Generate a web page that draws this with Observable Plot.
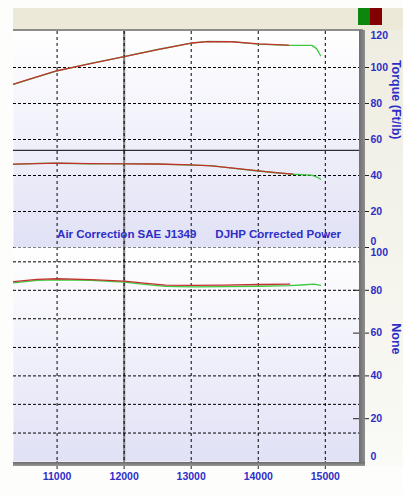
<!DOCTYPE html>
<html><head><meta charset="utf-8">
<script src="https://cdn.jsdelivr.net/npm/d3@7"></script>
<script src="https://cdn.jsdelivr.net/npm/@observablehq/plot@0.6"></script>
<style>
html,body{margin:0;padding:0;background:#fff}
#wrap{position:relative;width:403px;height:495px;overflow:hidden;font-family:"Liberation Sans",Arial,sans-serif;background:#fdfdfc}
#topbar{position:absolute;left:13px;top:8px;width:390px;height:22px;background:#ece9d8}
#rightstrip{position:absolute;left:365px;top:30px;width:38px;height:436px;background:linear-gradient(#efede1,#fafaf6)}
#legend{position:absolute;left:358px;top:8px;display:flex}
#legend span{display:block;width:12px;height:17px}
.chart{position:absolute;left:0}
.bar{position:absolute}
</style></head>
<body>
<div id="wrap">
  <div id="topbar"></div>
  <div id="rightstrip"></div>
  <div id="legend"></div>
</div>
<script>
// ---- data ----
const xDomain = [10350, 15510];
const rpmTicks = [11000, 12000, 13000, 14000, 15000];
const torqueTicks = [0, 20, 40, 60, 80, 100, 120];
const noneTicks = [0, 20, 40, 60, 80, 100];
const torqueGrid = [0, 20, 40, 60, 80, 100];
const noneGrid = [13.3, 26.7, 40, 53.3, 66.7, 80, 93.3];
const markerLevel = [54];
const cursorRpm = [12000];
const legendColors = ["#0c860c", "#820000"];
const lineColors = ["#3ec83e", "#c43030"];

// top panel, upper curve (torque)
const upperRpmRed   = [10350, 10600, 11000, 11500, 12000, 12500, 13000, 13250, 13600, 14000, 14450];
const upperRed      = [90.8, 93.7, 98.2, 102.2, 106.0, 109.9, 113.6, 114.4, 114.3, 113.1, 112.4];
const upperRpmGreen = [10350, 10600, 11000, 11500, 12000, 12500, 13000, 13250, 13600, 14000, 14450, 14800, 14870, 14930];
const upperGreen    = [90.6, 93.6, 98.1, 102.3, 106.1, 110.0, 113.5, 114.5, 114.4, 113.0, 112.3, 112.3, 110.5, 106.5];

// top panel, lower curve
const lowerRpmRed   = [10350, 10700, 11000, 11500, 12000, 12500, 13000, 13300, 13700, 14000, 14300, 14520];
const lowerRed      = [46.3, 46.6, 46.9, 46.6, 46.5, 46.4, 45.9, 45.4, 43.8, 42.6, 41.5, 40.8];
const lowerRpmGreen = [10350, 10700, 11000, 11500, 12000, 12500, 13000, 13300, 13700, 14000, 14300, 14520, 14800, 14880, 14930];
const lowerGreen    = [46.2, 46.7, 46.8, 46.5, 46.6, 46.3, 45.8, 45.5, 43.7, 42.5, 41.4, 40.7, 40.2, 39.0, 37.9];

// bottom panel curve (None)
const botRpmRed   = [10350, 10700, 11000, 11500, 12000, 12300, 12620, 13000, 13500, 14000, 14470];
const botRed      = [84.1, 85.1, 85.4, 85.0, 84.3, 83.4, 82.4, 82.3, 82.4, 82.7, 82.9];
const botRpmGreen = [10350, 10700, 11000, 11500, 12000, 12300, 12620, 13000, 13500, 14000, 14470, 14700, 14830, 14930];
const botGreen    = [83.5, 84.6, 84.9, 84.6, 83.8, 82.8, 81.8, 81.6, 81.7, 81.9, 82.2, 82.6, 82.9, 82.3];

// ---- helpers ----
const rows = (xs, vs) => xs.map((x, i) => ({rpm: x, v: vs[i]}));
const blue = "#2e2ec8";
const font = "'Liberation Sans', Arial, sans-serif";
const txt = {fill: blue, fontWeight: "bold", fontSize: 10.5, fontFamily: font};
const lineOpt = (c) => ({x: "rpm", y: "v", stroke: c, strokeWidth: 1.3});

function addGrad(svg, id) {
  svg.insertAdjacentHTML("afterbegin",
    `<defs><linearGradient id="${id}" x1="0" y1="0" x2="0" y2="1">
      <stop offset="0" stop-color="#ffffff"/><stop offset="1" stop-color="#e1e1f6"/>
    </linearGradient></defs>`);
}

const wrap = document.getElementById("wrap");

// ---- top chart ----
const topChart = Plot.plot({
  width: 403, height: 247,
  marginLeft: 13, marginRight: 44, marginTop: 31, marginBottom: 0,
  style: {background: "transparent", overflow: "visible", fontFamily: font},
  x: {domain: xDomain, axis: null},
  y: {domain: [0, 120], axis: null},
  marks: [
    Plot.frame({fill: "url(#bgTop)", stroke: null}),
    Plot.ruleX(cursorRpm, {stroke: "#8a8a8a", strokeWidth: 2.2}),
    Plot.ruleX(rpmTicks, {stroke: "#000", strokeDasharray: "3,3"}),
    Plot.ruleY(torqueGrid, {stroke: "#000", strokeDasharray: "3,2"}),
    Plot.ruleY(markerLevel, {stroke: "#000"}),
    Plot.line(rows(upperRpmGreen, upperGreen), lineOpt(lineColors[0])),
    Plot.line(rows(upperRpmRed, upperRed), lineOpt(lineColors[1])),
    Plot.line(rows(lowerRpmGreen, lowerGreen), lineOpt(lineColors[0])),
    Plot.line(rows(lowerRpmRed, lowerRed), lineOpt(lineColors[1])),
    Plot.axisY({anchor: "right", ticks: torqueTicks.slice(0, 6), tickSize: 9, tickFormat: () => "", stroke: "#222", label: null}),
    Plot.axisY({anchor: "right", ticks: torqueTicks.slice(1, 6), tickSize: 0, tickPadding: 11, label: null, ...txt}),
    Plot.axisY({anchor: "right", ticks: torqueTicks.slice(6), tickSize: 0, tickPadding: 11, dy: 4, label: null, ...txt}),
    Plot.axisY({anchor: "right", ticks: torqueTicks.slice(0, 1), tickSize: 0, tickPadding: 11, dy: -6, label: null, ...txt}),
    Plot.text(["Torque (Ft/lb)"], {frameAnchor: "right", dx: 36, rotate: 90, ...txt, fontSize: 12.5}),
    Plot.text(["Air Correction SAE J1349"], {x: () => 11000, frameAnchor: "bottom", dy: -10, textAnchor: "start", ...txt, fontSize: 11.5}),
    Plot.text(["DJHP Corrected Power"], {x: () => 13360, frameAnchor: "bottom", dy: -10, textAnchor: "start", ...txt, fontSize: 11.5})
  ]
});
addGrad(topChart, "bgTop");
topChart.classList.add("chart");
topChart.style.top = "0px";
wrap.appendChild(topChart);

// ---- bottom chart ----
const botChart = Plot.plot({
  width: 403, height: 248,
  marginLeft: 13, marginRight: 44, marginTop: 0, marginBottom: 34,
  style: {background: "transparent", overflow: "visible", fontFamily: font},
  x: {domain: xDomain, axis: null},
  y: {domain: [0, 100], axis: null},
  marks: [
    Plot.frame({fill: "url(#bgBot)", stroke: null}),
    Plot.ruleX(cursorRpm, {stroke: "#8a8a8a", strokeWidth: 2.2}),
    Plot.ruleX(rpmTicks, {stroke: "#000", strokeDasharray: "3,3"}),
    Plot.ruleY(noneGrid, {stroke: "#000", strokeDasharray: "3,2"}),
    Plot.line(rows(botRpmGreen, botGreen), lineOpt(lineColors[0])),
    Plot.line(rows(botRpmRed, botRed), lineOpt(lineColors[1])),
    Plot.axisY({anchor: "right", ticks: noneTicks.slice(1, 5), tickSize: 16, dx: -7, tickFormat: () => "", stroke: "#222", label: null}),
    Plot.axisY({anchor: "right", ticks: noneTicks.slice(1, 5), tickSize: 0, tickPadding: 11, label: null, ...txt}),
    Plot.axisY({anchor: "right", ticks: noneTicks.slice(5), tickSize: 0, tickPadding: 11, dy: 5.5, label: null, ...txt}),
    Plot.axisY({anchor: "right", ticks: noneTicks.slice(0, 1), tickSize: 0, tickPadding: 11, dy: -4.5, label: null, ...txt}),
    Plot.text(["None"], {frameAnchor: "right", dx: 36, rotate: 90, ...txt, fontSize: 12.5}),
    Plot.axisX({ticks: rpmTicks, tickSize: 8, tickPadding: 3, tickFormat: "d", stroke: "#222", label: null, ...txt})
  ]
});
addGrad(botChart, "bgBot");
botChart.classList.add("chart");
botChart.style.top = "247px";
wrap.appendChild(botChart);

// ---- frame decorations ----
function bar(l, t, w, h, bg) {
  const d = document.createElement("div");
  d.className = "bar";
  Object.assign(d.style, {left: l + "px", top: t + "px", width: w + "px", height: h + "px", background: bg});
  wrap.appendChild(d);
}
bar(13, 29, 350, 2, "#8c8c8c");
bar(359, 30, 6, 436, "linear-gradient(90deg,#6e6e6e,#8e8e8e)");
bar(13, 461.5, 352, 4.5, "linear-gradient(#6a6a6a,#9a9a9a)");

// ---- legend swatches ----
const legend = document.getElementById("legend");
legend.style.zIndex = 5;
legendColors.forEach(c => {
  const s = document.createElement("span");
  s.style.background = c;
  legend.appendChild(s);
});
wrap.appendChild(legend);
</script>
</body></html>
